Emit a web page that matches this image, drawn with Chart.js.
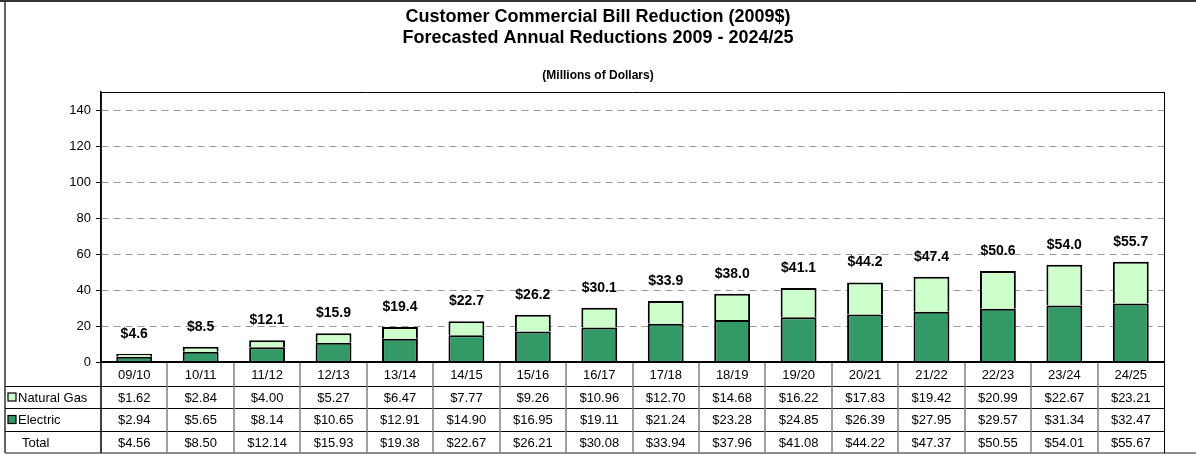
<!DOCTYPE html>
<html>
<head>
<meta charset="utf-8">
<title>Customer Commercial Bill Reduction</title>
<script src="https://cdn.jsdelivr.net/npm/chart.js@4.4.0/dist/chart.umd.min.js"></script>
<style>
  html, body { margin: 0; padding: 0; background: #fff; }
</style>
</head>
<body>
<canvas id="myChart" width="1196" height="455"></canvas>
<script>
const years = ["09/10", "10/11", "11/12", "12/13", "13/14", "14/15", "15/16", "16/17",
  "17/18", "18/19", "19/20", "20/21", "21/22", "22/23", "23/24", "24/25"];
const naturalGas = [1.62, 2.84, 4.00, 5.27, 6.47, 7.77, 9.26, 10.96,
  12.70, 14.68, 16.22, 17.83, 19.42, 20.99, 22.67, 23.21];
const electric = [2.94, 5.65, 8.14, 10.65, 12.91, 14.90, 16.95, 19.11,
  21.24, 23.28, 24.85, 26.39, 27.95, 29.57, 31.34, 32.47];
const totals = [4.56, 8.50, 12.14, 15.93, 19.38, 22.67, 26.21, 30.08,
  33.94, 37.96, 41.08, 44.22, 47.37, 50.55, 54.01, 55.67];

const FONT = '"Liberation Sans", Arial, Helvetica, sans-serif';
const GAS_COLOR = "#CCFFCC";
const ELEC_COLOR = "#339966";

function money(v, digits) {
  return "$" + (v + 1e-9).toFixed(digits);
}

function line(ctx, x1, y1, x2, y2) {
  ctx.beginPath();
  ctx.moveTo(x1, y1);
  ctx.lineTo(x2, y2);
  ctx.stroke();
}

// titles, frame, stack totals and the data table under the plot
const tablePlugin = {
  id: "dataTable",
  afterDatasetsDraw(chart) {
    const ctx = chart.ctx;
    const xs = chart.scales.x;
    const ys = chart.scales.y;
    ctx.save();
    ctx.font = "bold 14px " + FONT;
    ctx.fillStyle = "#000";
    ctx.textAlign = "center";
    ctx.textBaseline = "middle";
    totals.forEach((t, i) => {
      ctx.fillText(money(t, 1), xs.getPixelForValue(i), ys.getPixelForValue(t) - 20);
    });
    ctx.restore();
  },
  afterDraw(chart) {
    const ctx = chart.ctx;
    const area = chart.chartArea;
    const xs = chart.scales.x;
    const left = 5;
    const bottom = 453;
    const rowLines = [386, 408, 431];

    ctx.save();

    // titles
    ctx.fillStyle = "#000";
    ctx.textAlign = "center";
    ctx.textBaseline = "alphabetic";
    ctx.font = "bold 18px " + FONT;
    ctx.fillText("Customer Commercial Bill Reduction (2009$)", chart.width / 2, 22);
    ctx.fillText("Forecasted Annual Reductions 2009 - 2024/25", chart.width / 2, 43);
    ctx.font = "bold 12px " + FONT;
    ctx.fillText("(Millions of Dollars)", chart.width / 2, 79);

    // outer frame
    ctx.strokeStyle = "#333";
    ctx.lineWidth = 2;
    line(ctx, 0, 1, chart.width, 1);
    ctx.lineWidth = 1.5;
    line(ctx, left, 0, left, bottom);
    ctx.strokeStyle = "#666";
    line(ctx, left, bottom, chart.width, bottom);

    // plot area box
    ctx.strokeStyle = "#000";
    ctx.lineWidth = 1;
    line(ctx, area.left, area.top + 0.5, area.right, area.top + 0.5);
    line(ctx, area.right + 0.5, area.top, area.right + 0.5, bottom);

    // table grid
    ctx.strokeStyle = "#000";
    ctx.lineWidth = 1;
    rowLines.forEach(y => line(ctx, left, y + 0.5, area.right, y + 0.5));
    ctx.strokeStyle = "#808080";
    ctx.lineWidth = 1.5;
    for (let i = 1; i < years.length; i++) {
      const bx = Math.round(xs.getPixelForValue(i - 0.5));
      line(ctx, bx, area.bottom, bx, bottom);
    }
    ctx.strokeStyle = "#000";
    ctx.lineWidth = 1.5;
    line(ctx, area.left, area.top, area.left, bottom);
    ctx.lineWidth = 2;
    line(ctx, area.left, area.bottom, area.right, area.bottom);

    // table text
    const rows = [
      { y: (area.bottom + rowLines[0]) / 2, cells: years },
      { y: (rowLines[0] + rowLines[1]) / 2, cells: naturalGas.map(v => money(v, 2)), label: "Natural Gas", swatch: GAS_COLOR },
      { y: (rowLines[1] + rowLines[2]) / 2, cells: electric.map(v => money(v, 2)), label: "Electric", swatch: ELEC_COLOR },
      { y: (rowLines[2] + bottom) / 2, cells: totals.map(v => money(v, 2)), label: "Total" }
    ];
    ctx.font = "13px " + FONT;
    ctx.textBaseline = "middle";
    rows.forEach(r => {
      ctx.fillStyle = "#000";
      ctx.textAlign = "center";
      r.cells.forEach((c, i) => ctx.fillText(c, xs.getPixelForValue(i), r.y + 1));
      if (!r.label) return;
      ctx.textAlign = "left";
      if (r.swatch) {
        ctx.fillStyle = r.swatch;
        ctx.fillRect(8, r.y - 4, 8, 8);
        ctx.strokeStyle = "#000";
        ctx.lineWidth = 1.2;
        ctx.strokeRect(8, r.y - 4, 8, 8);
        ctx.fillStyle = "#000";
        ctx.fillText(r.label, 18, r.y + 1);
      } else {
        ctx.fillText(r.label, 22, r.y + 1);
      }
    });

    ctx.restore();
  }
};

new Chart(document.getElementById("myChart"), {
  type: "bar",
  data: {
    labels: years,
    datasets: [
      {
        label: "Electric",
        data: electric,
        backgroundColor: ELEC_COLOR,
        borderColor: "#000",
        borderWidth: 2,
        borderSkipped: "bottom"
      },
      {
        label: "Natural Gas",
        data: naturalGas,
        backgroundColor: GAS_COLOR,
        borderColor: "#000",
        borderWidth: 2,
        borderSkipped: "bottom"
      }
    ]
  },
  options: {
    responsive: false,
    animation: false,
    layout: { padding: { left: 5, right: 32, top: 92, bottom: 93 } },
    datasets: { bar: { categoryPercentage: 1, barPercentage: 0.54 } },
    plugins: {
      legend: { display: false },
      tooltip: { enabled: false },
      title: { display: false }
    },
    scales: {
      x: { stacked: true, display: false },
      y: {
        stacked: true,
        min: 0,
        max: 150,
        afterFit(scale) { scale.width = 96; },
        afterBuildTicks(scale) { scale.ticks = scale.ticks.filter(t => t.value <= 140); },
        ticks: { stepSize: 20, padding: 5, color: "#000", font: { family: FONT, size: 13 } },
        grid: {
          color: c => (c.tick && c.tick.value === 0 ? "rgba(0,0,0,0)" : "#999"),
          lineWidth: 1,
          tickLength: 5,
          tickColor: "#000",
          tickWidth: 1
        },
        border: { color: "#000", width: 1.5, dash: [7, 5] }
      }
    }
  },
  plugins: [tablePlugin]
});
</script>
</body>
</html>
